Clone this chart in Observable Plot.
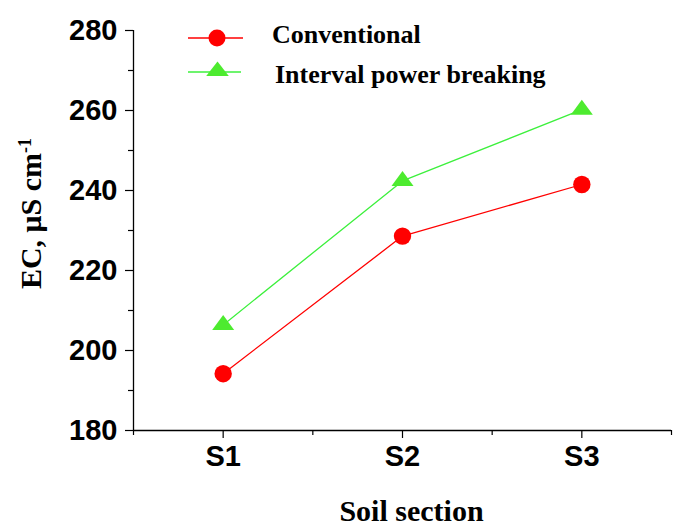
<!DOCTYPE html>
<html>
<head>
<meta charset="utf-8">
<script src="https://cdn.jsdelivr.net/npm/d3@7"></script>
<script src="https://cdn.jsdelivr.net/npm/@observablehq/plot@0.6"></script>
<style>
  html, body { margin: 0; padding: 0; background: white; }
  #wrap { position: relative; width: 674px; height: 525px; }
  #wrap svg { display: block; }
</style>
</head>
<body>
<div id="wrap"></div>
<script>
const categories = ["S1", "S2", "S3"];
const seriesNames = ["Conventional", "Interval power breaking"];
const conventional = [194.2, 228.6, 241.5];
const intervalPower = [206.4, 242.4, 260.2];
const yMajorTicks = [180, 200, 220, 240, 260, 280];
const yMinorTicks = [190, 210, 230, 250, 270];
const xMinorTicks = [0.5, 1.5, 2.5, 3.5];
const yTitle = "EC, μS cm";
const yTitleSup = "-1";
const xTitle = "Soil section";

const red = "#ff0000";
const greenLine = "#3cf03c";
const greenFill = "#4deb2f";

const convData = categories.map((c, i) => ({x: i + 1, y: conventional[i], s: seriesNames[0]}));
const intData = categories.map((c, i) => ({x: i + 1, y: intervalPower[i], s: seriesNames[1]}));

const flatTriangle = {
  draw(context) {
    context.moveTo(0, -10);
    context.lineTo(11, 5);
    context.lineTo(-11, 5);
    context.closePath();
  }
};

const serif = "Liberation Serif, Times New Roman, serif";

const chart = Plot.plot({
  width: 674,
  height: 525,
  marginLeft: 133,
  marginRight: 3,
  marginTop: 30,
  marginBottom: 95,
  x: {domain: [0.5, 3.5]},
  y: {domain: [180, 280]},
  style: {
    fontFamily: "Liberation Sans, Arial, sans-serif",
    fontSize: "29px",
    fontWeight: "bold",
    color: "black",
    background: "white",
    overflow: "visible"
  },
  marks: [
    Plot.axisY({ticks: yMajorTicks, tickSize: 8, tickPadding: 8, label: null, strokeWidth: 1.2}),
    Plot.axisY({ticks: yMinorTicks, tickSize: 5, tickFormat: () => "", label: null, strokeWidth: 1.2}),
    Plot.axisX({ticks: [1, 2, 3], tickFormat: d => categories[d - 1], tickSize: 8, tickPadding: 7, label: null, strokeWidth: 1.2}),
    Plot.axisX({ticks: xMinorTicks, tickSize: 5, tickFormat: () => "", label: null, strokeWidth: 1.2}),
    Plot.ruleX([0.5], {stroke: "black", strokeWidth: 1.3}),
    Plot.ruleY([180], {stroke: "black", strokeWidth: 1.3}),
    Plot.line(convData, {x: "x", y: "y", stroke: red, strokeWidth: 1.3}),
    Plot.line(intData, {x: "x", y: "y", stroke: greenLine, strokeWidth: 1.3}),
    Plot.dot(convData, {x: "x", y: "y", r: 8.7, fill: red, symbol: "circle"}),
    Plot.dot(intData, {x: "x", y: "y", r: 8, fill: greenFill, symbol: flatTriangle}),
    Plot.text([yTitle], {frameAnchor: "left", textAnchor: "middle", lineAnchor: "middle", rotate: -90, dx: -102.6, dy: -17, fontFamily: serif, fontSize: 30, fontWeight: "bold", fill: "black"}),
    Plot.text([xTitle], {frameAnchor: "bottom", textAnchor: "middle", lineAnchor: "bottom", dx: 9, dy: 90, fontFamily: serif, fontSize: 30, fontWeight: "bold", fill: "black"})
  ]
});

// superscript on the y title
d3.select(chart).selectAll("text")
  .filter(function() { return this.textContent === yTitle; })
  .append("tspan")
  .attr("dy", "-0.55em")
  .attr("font-size", "18px")
  .text(yTitleSup);

const wrap = document.getElementById("wrap");
wrap.appendChild(chart);

// legend overlay
const leg = d3.create("svg")
  .attr("width", 674).attr("height", 525)
  .style("position", "absolute").style("left", "0px").style("top", "0px")
  .style("pointer-events", "none");

const items = [
  {name: seriesNames[0], ly: 38, tx: 272, ty: 42.7, stroke: red, x2: 243},
  {name: seriesNames[1], ly: 72, tx: 275, ty: 83, stroke: greenLine, x2: 241}
];
items.forEach((it, i) => {
  leg.append("line").attr("x1", 188).attr("x2", it.x2).attr("y1", it.ly).attr("y2", it.ly)
    .attr("stroke", it.stroke).attr("stroke-width", 1.3);
  if (i === 0) {
    leg.append("circle").attr("cx", 217).attr("cy", it.ly).attr("r", 8.5).attr("fill", red);
  } else {
    leg.append("path").attr("transform", `translate(217.5,${it.ly - 0.5})`)
      .attr("d", "M0,-10L11.3,4.5L-11.3,4.5Z").attr("fill", greenFill);
  }
  leg.append("text").attr("x", it.tx).attr("y", it.ty)
    .attr("font-family", serif).attr("font-weight", "bold").attr("font-size", 26)
    .attr("fill", "black").text(it.name);
});
wrap.appendChild(leg.node());
</script>
</body>
</html>
